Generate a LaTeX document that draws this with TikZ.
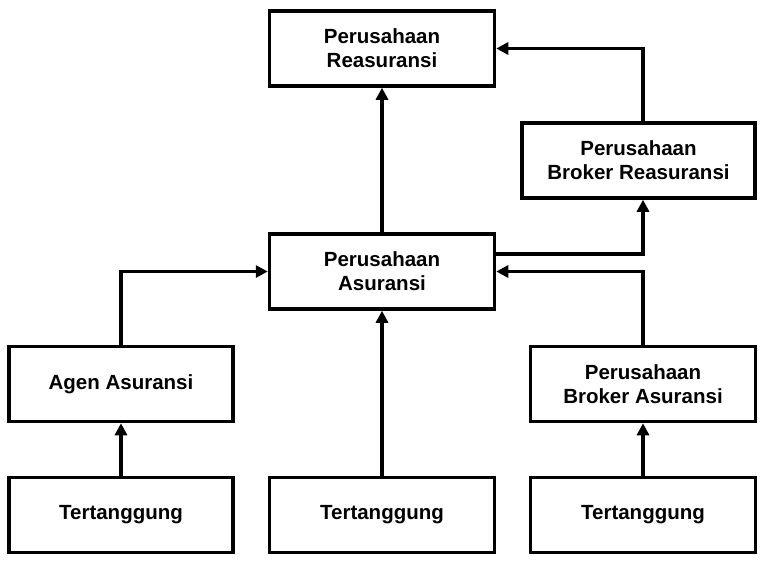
\documentclass[tikz,border=0pt]{standalone}
\usepackage{fontspec}
\setmainfont{Liberation Sans}
\usetikzlibrary{arrows.meta}
\begin{document}
\begin{tikzpicture}[x=1pt,y=-1pt,
  box/.style={draw=black, line width=3.5pt, fill=white, minimum width=225pt, minimum height=75pt,
    align=center, font=\fontsize{20.5}{24}\selectfont\bfseries, inner sep=2pt},
  arr/.style={line width=3.2pt, -{Triangle[length=12pt,width=12pt]}}]
\useasboundingbox (0,0) rectangle (768,563);
\fill[white] (0,0) rectangle (768,563);
\node[box] (R)  at (382,48.5)  {Perusahaan\\Reasuransi};
\node[box, minimum width=233pt] (BR) at (638.5,160.5) {Perusahaan\\Broker Reasuransi};
\node[box] (A)  at (382,271.5) {Perusahaan\\Asuransi};
\node[box, minimum width=224pt] (Ag) at (121,384) {Agen Asuransi};
\node[box] (BA) at (643,384) {Perusahaan\\Broker Asuransi};
\node[box, minimum width=224pt] (T1) at (121,515) {Tertanggung};
\node[box] (T2) at (382,515) {Tertanggung};
\node[box] (T3) at (643,515) {Tertanggung};
\coordinate (c1) at (643,48);
\draw[arr] (A.north) -- (R.south);
\draw[arr] (BR.north -| c1) |- (R.east);
\draw[arr] ([yshift=17.5pt]A.east) -| (BR.south -| c1);
\draw[arr] (BA.north) |- (A.east);
\draw[arr] (Ag.north) |- (A.west);
\draw[arr] (T1.north) -- (Ag.south);
\draw[arr] (T2.north) -- (A.south);
\draw[arr] (T3.north) -- (BA.south);
\end{tikzpicture}
\end{document}
